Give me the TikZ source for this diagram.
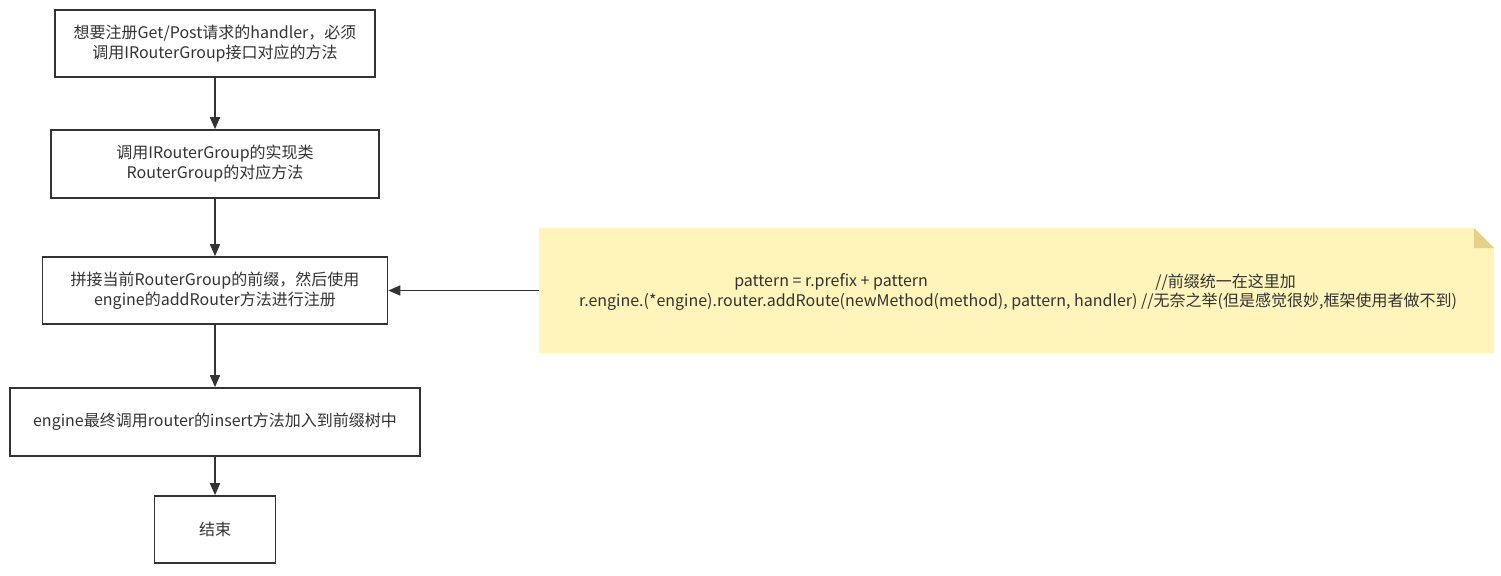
\documentclass[tikz,border=0pt]{standalone}
\usepackage{fontspec}
\setmainfont{Noto Sans CJK SC}
\usetikzlibrary{arrows.meta}
\definecolor{ink}{HTML}{333333}
\definecolor{notefill}{HTML}{FFF5BA}
\definecolor{notefold}{HTML}{E6D18C}
\tikzset{
  flowbox/.style={draw=ink, line width=1.2pt, fill=white, text=ink, align=center,
    inner sep=0pt, font=\fontsize{12pt}{15pt}\selectfont},
  flowarrow/.style={draw=ink, line width=1.2pt, -{Triangle[length=9pt,width=7.5pt]}},
  notetext/.style={text=ink, inner sep=0pt, font=\fontsize{12pt}{15pt}\selectfont}
}
\begin{document}
\begin{tikzpicture}[x=0.75pt,y=-0.75pt]
\useasboundingbox (0,0) rectangle (1501,575);
% note
\fill[notefill] (539,228) -- (1474,228) -- (1494,248) -- (1494,353) -- (539,353) -- cycle;
\fill[notefold] (1474,228) -- (1494,248) -- (1474,248) -- cycle;
\coordinate (noteL) at (539,290.5);
\node[notetext, anchor=west] (n1a) at (734,282) {pattern = r.prefix + pattern};
\node[notetext, anchor=west] (n1b) at (1155,282) {//前缀统一在这里加};
\node[notetext] (n2) at (1018,302) {r.engine.(*engine).router.addRoute(newMethod(method), pattern, handler) //无奈之举(但是感觉很妙,框架使用者做不到)};
% boxes
\node[flowbox, minimum width=240pt, minimum height=50.25pt] (b1) at (215,43.5) {想要注册Get/Post请求的handler，必须\\调用IRouterGroup接口对应的方法};
\node[flowbox, minimum width=246pt, minimum height=51pt] (b2) at (215,164) {调用IRouterGroup的实现类\\RouterGroup的对应方法};
\node[flowbox, minimum width=258.75pt, minimum height=50.25pt] (b3) at (215,290.5) {拼接当前RouterGroup的前缀，然后使用\\engine的addRouter方法进行注册};
\node[flowbox, minimum width=307.5pt, minimum height=51pt] (b4) at (215,422) {engine最终调用router的insert方法加入到前缀树中};
\node[flowbox, minimum width=90.75pt, minimum height=50.25pt] (b5) at (215,529.5) {结束};
% arrows
\draw[flowarrow] (b1) -- (b2);
\draw[flowarrow] (b2) -- (b3);
\draw[flowarrow] (b3) -- (b4);
\draw[flowarrow] (b4) -- (b5);
\draw[flowarrow] (noteL) -- (b3.east);
\end{tikzpicture}
\end{document}
